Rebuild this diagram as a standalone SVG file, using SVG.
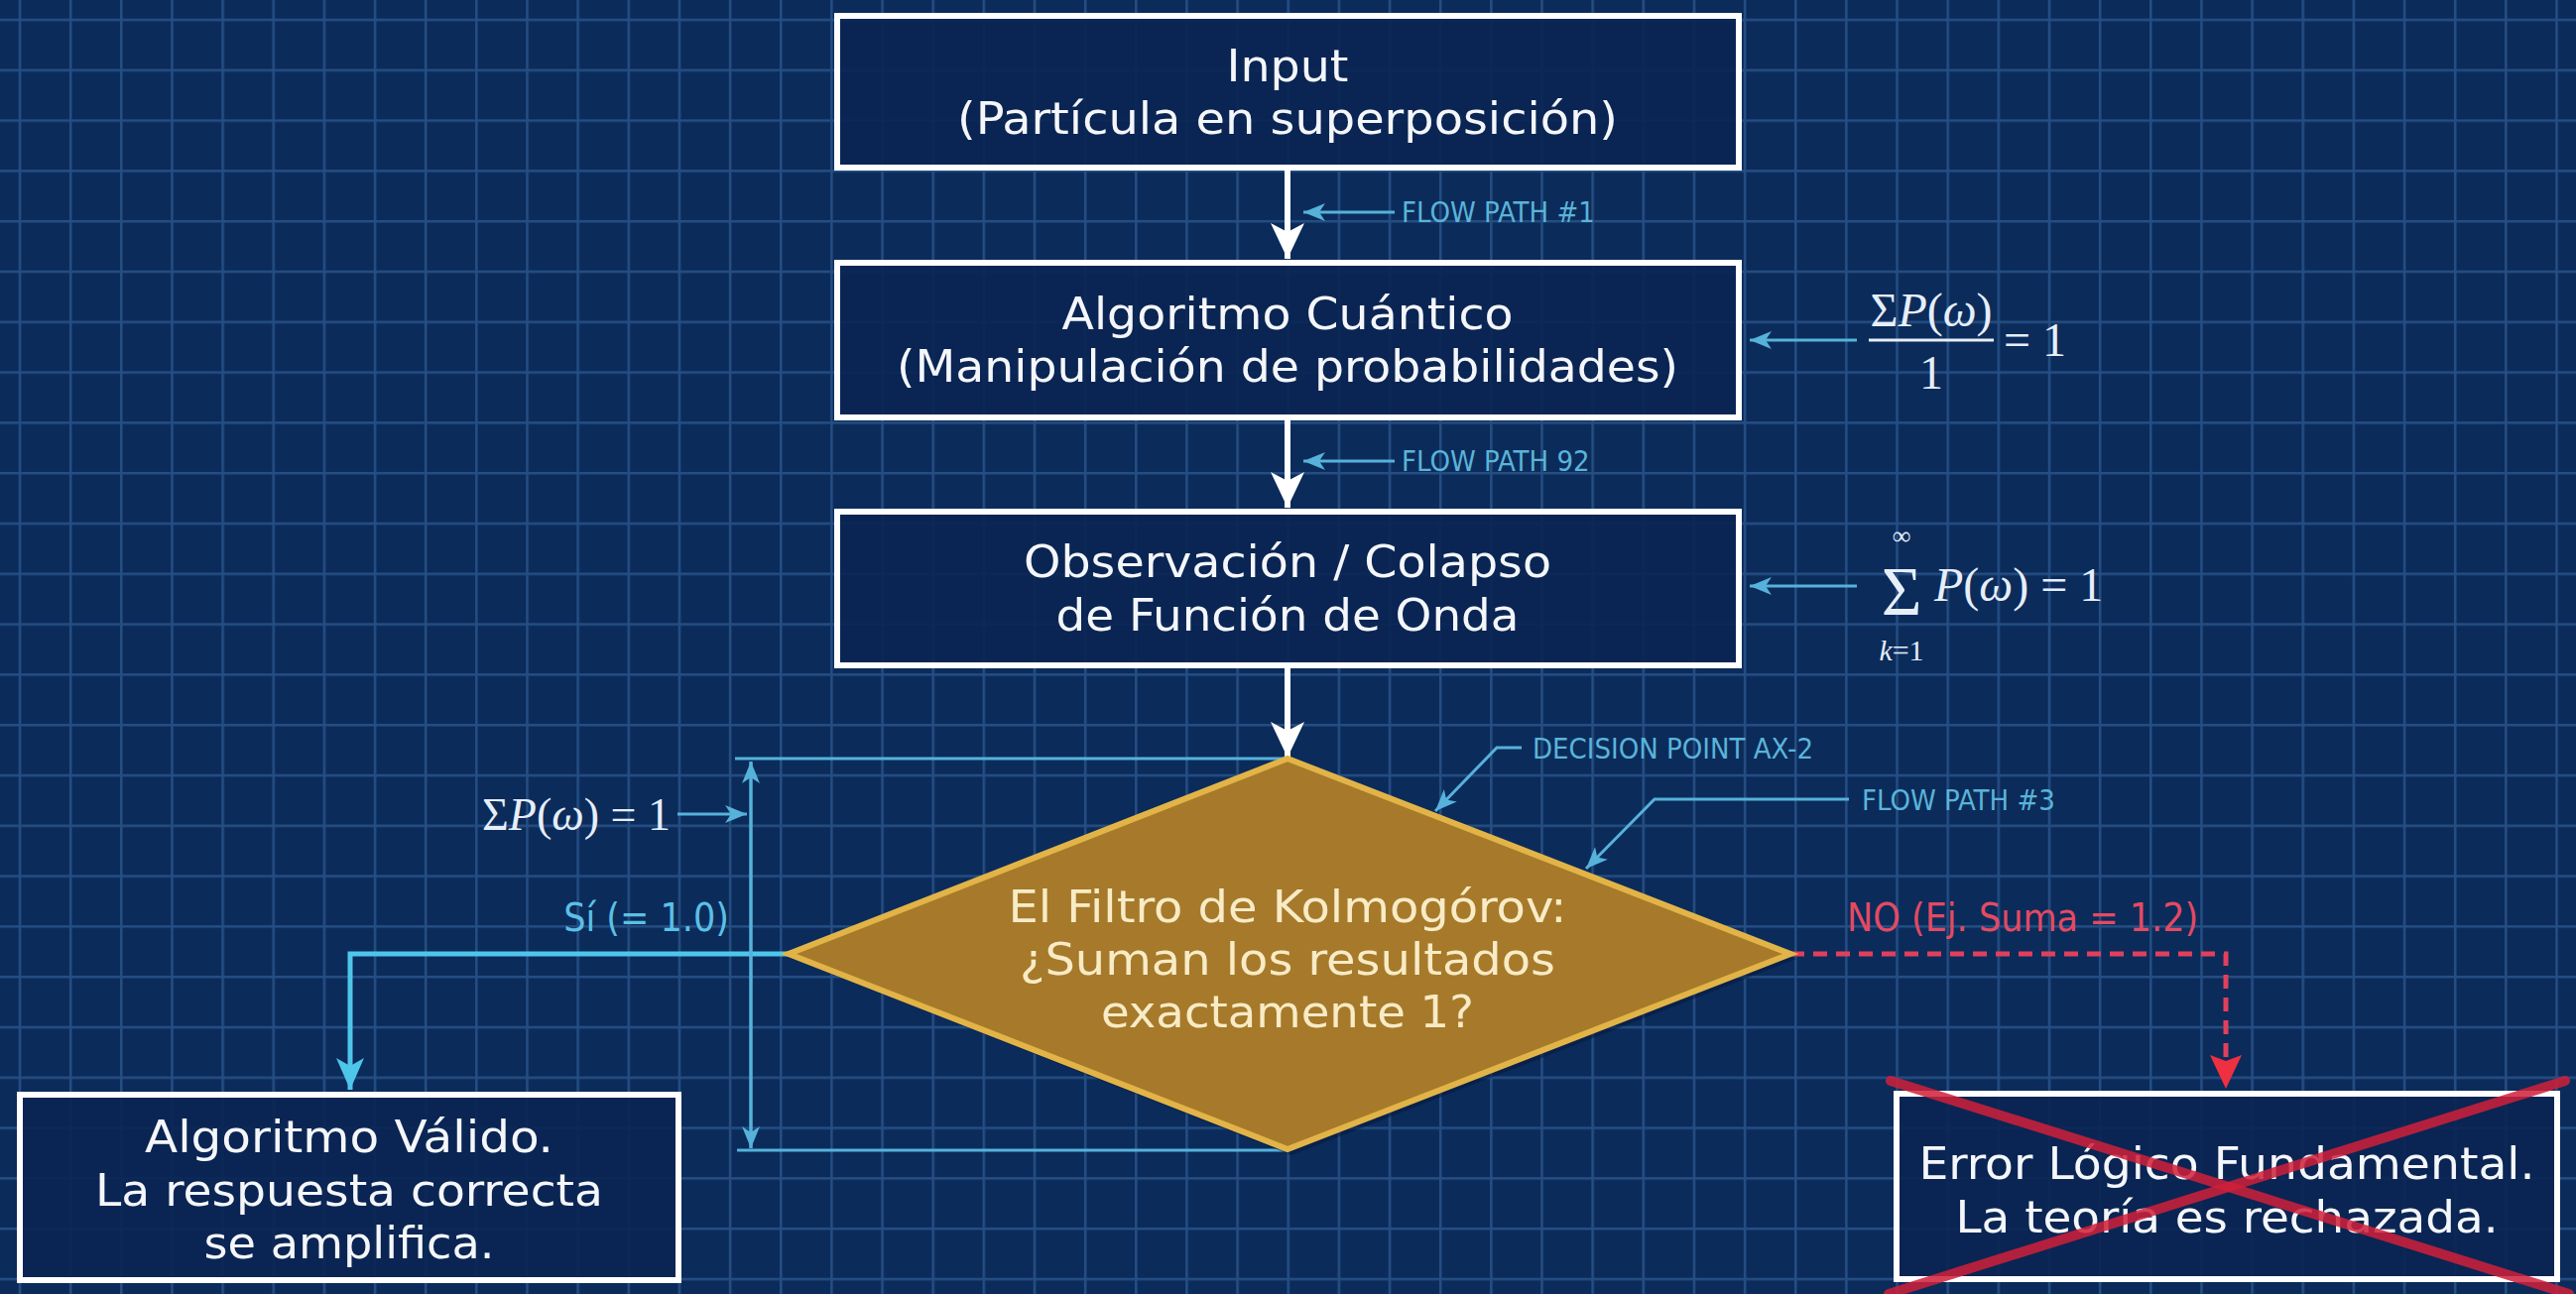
<svg xmlns="http://www.w3.org/2000/svg" width="2597" height="1305" viewBox="0 0 2597 1305">
<style>
.box{fill:#0a2552;fill-opacity:0.9;stroke:#ffffff;stroke-width:6}
.t{font-family:"DejaVu Sans Condensed","DejaVu Sans",sans-serif;font-stretch:condensed;fill:#f4f6fa;font-size:45px;text-anchor:middle}
.dt{font-family:"DejaVu Sans Condensed","DejaVu Sans",sans-serif;font-stretch:condensed;fill:#f8ebc6;font-size:45px;text-anchor:middle}
.lbl{font-family:"DejaVu Sans Condensed","DejaVu Sans",sans-serif;font-stretch:condensed;fill:#5ab4d8;font-size:29px}
.yes{font-family:"DejaVu Sans Condensed","DejaVu Sans",sans-serif;font-stretch:condensed;fill:#5cc0e4;font-size:39px}
.no{font-family:"DejaVu Sans Condensed","DejaVu Sans",sans-serif;font-stretch:condensed;fill:#e34a62;font-size:39px}
.m{font-family:"Liberation Serif","DejaVu Serif",serif;fill:#e6eef8}
.mi{font-style:italic}
.main{stroke:#ffffff;stroke-width:6;fill:none}
.ann{stroke:#56b2da;stroke-width:3;fill:none}
</style>
<defs>
<pattern id="grid" x="18.75" y="18.75" width="51.15" height="50.8" patternUnits="userSpaceOnUse">
<path d="M1.25,0 V50.8 M0,1.25 H51.15" stroke="#3a6ba3" stroke-opacity="0.55" stroke-width="2.5" fill="none"/>
</pattern>
<marker id="aw" viewBox="0 0 36 36" refX="36" refY="18" markerWidth="36" markerHeight="36" markerUnits="userSpaceOnUse" orient="auto">
<path d="M0,1 L36,18 L0,35 L9,18 Z" fill="#ffffff"/>
</marker>
<marker id="ac" viewBox="0 0 32 32" refX="32" refY="16" markerWidth="32" markerHeight="32" markerUnits="userSpaceOnUse" orient="auto">
<path d="M0,2 L32,16 L0,30 L8,16 Z" fill="#4ec6ea"/>
</marker>
<marker id="ab" viewBox="0 0 22 18" refX="22" refY="9" markerWidth="22" markerHeight="18" markerUnits="userSpaceOnUse" orient="auto">
<path d="M0,0 L22,9 L0,18 L6,9 Z" fill="#56b2da"/>
</marker>
<marker id="ar" viewBox="0 0 34 34" refX="34" refY="17" markerWidth="34" markerHeight="34" markerUnits="userSpaceOnUse" orient="auto">
<path d="M0,1 L34,17 L0,33 L6,17 Z" fill="#ee3040"/>
</marker>
</defs>
<rect x="0" y="0" width="2597" height="1305" fill="#0b2b5b"/>
<rect x="0" y="0" width="2597" height="1305" fill="url(#grid)"/>

<g id="connectors">
<line class="main" x1="1298" y1="172" x2="1298" y2="261" marker-end="url(#aw)"/>
<line class="main" x1="1298" y1="424" x2="1298" y2="512" marker-end="url(#aw)"/>
<line class="main" x1="1298" y1="674" x2="1298" y2="764" marker-end="url(#aw)"/>
<polyline points="795,962 353,962 353,1099" fill="none" stroke="#4ec6ea" stroke-width="5" marker-end="url(#ac)"/>
<polyline points="1805,962 2244,962 2244,1098" fill="none" stroke="#e0405c" stroke-width="5" stroke-dasharray="14 9" marker-end="url(#ar)"/>
<g id="annotations">
<line class="ann" x1="1406" y1="214" x2="1314" y2="214" marker-end="url(#ab)"/>
<line class="ann" x1="1406" y1="465" x2="1314" y2="465" marker-end="url(#ab)"/>
<line class="ann" x1="1872" y1="343" x2="1764" y2="343" marker-end="url(#ab)"/>
<line class="ann" x1="1872" y1="591" x2="1764" y2="591" marker-end="url(#ab)"/>
<polyline class="ann" points="1534,754 1509,754 1447,818" marker-end="url(#ab)"/>
<polyline class="ann" points="1864,806 1668,806 1599,876" marker-end="url(#ab)"/>
<line class="ann" x1="741" y1="765" x2="1298" y2="765"/>
<line class="ann" x1="743" y1="1160" x2="1298" y2="1160"/>
<line class="ann" x1="757" y1="1158" x2="757" y2="768" marker-end="url(#ab)"/>
<line class="ann" x1="757" y1="768" x2="757" y2="1158" marker-end="url(#ab)"/>
<line class="ann" x1="683" y1="821" x2="753" y2="821" marker-end="url(#ab)"/>
</g>
</g>

<g id="node-input">
<rect class="box" x="844" y="16" width="909" height="153"/>
<text class="t" x="1298" y="82" textLength="123" lengthAdjust="spacingAndGlyphs">Input</text>
<text class="t" x="1298" y="135" textLength="666" lengthAdjust="spacingAndGlyphs">(Partícula en superposición)</text>
</g>
<g id="label-flow1"><text class="lbl" x="1413" y="224">FLOW PATH #1</text></g>

<g id="node-algoritmo">
<rect class="box" x="844" y="265" width="909" height="156"/>
<text class="t" x="1298" y="332" textLength="455" lengthAdjust="spacingAndGlyphs">Algoritmo Cuántico</text>
<text class="t" x="1298" y="385" textLength="788" lengthAdjust="spacingAndGlyphs">(Manipulación de probabilidades)</text>
</g>
<g id="label-flow2"><text class="lbl" x="1413" y="475">FLOW PATH 92</text></g>

<g id="formula-1">
<text class="m" x="1947" y="329" text-anchor="middle" style="font-size:48px">Σ<tspan class="mi">P</tspan>(<tspan class="mi">ω</tspan>)</text>
<line x1="1884" y1="343" x2="2010" y2="343" stroke="#e6eef8" stroke-width="3"/>
<text class="m" x="1947" y="392" text-anchor="middle" style="font-size:48px">1</text>
<text class="m" x="2020" y="359" style="font-size:48px">= 1</text>
</g>

<g id="node-observacion">
<rect class="box" x="844" y="516" width="909" height="155"/>
<text class="t" x="1298" y="582" textLength="532" lengthAdjust="spacingAndGlyphs">Observación / Colapso</text>
<text class="t" x="1298" y="636" textLength="467" lengthAdjust="spacingAndGlyphs">de Función de Onda</text>
</g>

<g id="formula-2">
<text class="m" x="1917" y="549" text-anchor="middle" style="font-size:26px">∞</text>
<text class="m" x="1917" y="620" text-anchor="middle" style="font-size:70px">Σ</text>
<text class="m" x="1917" y="666" text-anchor="middle" style="font-size:30px"><tspan class="mi">k</tspan>=1</text>
<text class="m" x="1950" y="606" style="font-size:48px"><tspan class="mi">P</tspan>(<tspan class="mi">ω</tspan>) = 1</text>
</g>

<g id="node-decision">
<polygon points="1302,771 1811,967 1302,1165 799,967" fill="#06183a" fill-opacity="0.5"/>
<polygon points="1298,765 1805,962 1298,1159 795,962" fill="#a67a2a" stroke="#e2b448" stroke-width="6" stroke-linejoin="miter"/>
<text class="dt" x="1298" y="930" textLength="563" lengthAdjust="spacingAndGlyphs">El Filtro de Kolmogórov:</text>
<text class="dt" x="1298" y="983" textLength="540" lengthAdjust="spacingAndGlyphs">¿Suman los resultados</text>
<text class="dt" x="1298" y="1036" textLength="376" lengthAdjust="spacingAndGlyphs">exactamente 1?</text>
</g>
<g id="label-decision"><text class="lbl" x="1545" y="765">DECISION POINT AX-2</text></g>
<g id="label-flow3"><text class="lbl" x="1877" y="817">FLOW PATH #3</text></g>
<g id="label-sum"><text class="m" x="676" y="837" text-anchor="end" style="font-size:46px">Σ<tspan class="mi">P</tspan>(<tspan class="mi">ω</tspan>) = 1</text></g>
<g id="label-yes"><text class="yes" x="735" y="939" text-anchor="end">Sí (= 1.0)</text></g>
<g id="label-no"><text class="no" x="1862" y="939">NO (Ej. Suma = 1.2)</text></g>

<g id="node-valido">
<rect class="box" x="20" y="1104" width="664" height="187"/>
<text class="t" x="352" y="1162" textLength="412" lengthAdjust="spacingAndGlyphs">Algoritmo Válido.</text>
<text class="t" x="352" y="1216" textLength="512" lengthAdjust="spacingAndGlyphs">La respuesta correcta</text>
<text class="t" x="352" y="1269" textLength="293" lengthAdjust="spacingAndGlyphs">se amplifica.</text>
</g>

<g id="node-error">
<rect class="box" x="1912" y="1103" width="666" height="187"/>
<text class="t" x="2245" y="1189" textLength="621" lengthAdjust="spacingAndGlyphs">Error Lógico Fundamental.</text>
<text class="t" x="2245" y="1243" textLength="547" lengthAdjust="spacingAndGlyphs">La teoría es rechazada.</text>
<g id="cross" stroke="#d0203a" stroke-opacity="0.85" stroke-width="10" stroke-linecap="round">
<line x1="1906" y1="1090" x2="2590" y2="1305"/>
<line x1="2586" y1="1090" x2="1904" y2="1305"/>
</g>
</g>
</svg>
